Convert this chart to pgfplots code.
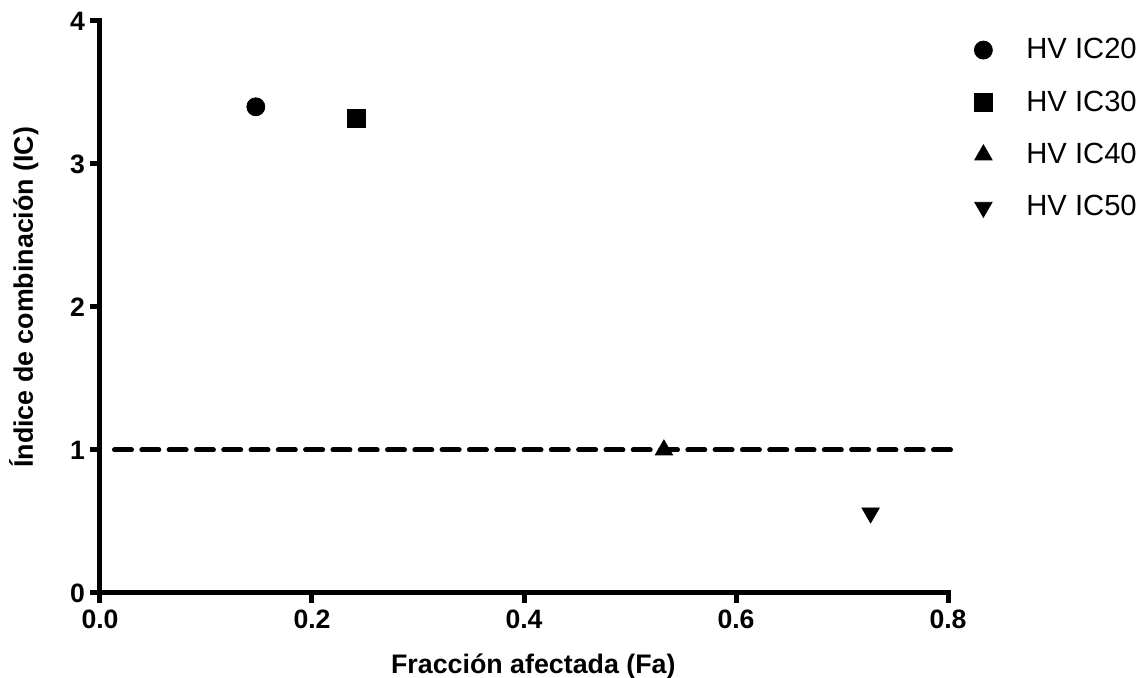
\documentclass[border=0pt]{standalone}
\usepackage{pgfplots}
\pgfplotsset{compat=1.18}
\usepackage{fontspec}
\setmainfont{Liberation Sans}
\begin{document}
\begin{tikzpicture}
\useasboundingbox (-50pt,-42.5pt) rectangle (520.5pt,296.5pt);
\begin{axis}[
  at={(0,0)}, anchor=south west,
  scale only axis, width=424pt, height=286pt,
  xmin=0, xmax=0.8, ymin=0, ymax=4,
  axis x line*=bottom, axis y line*=left,
  axis line style={line width=2.5pt, line cap=rect},
  every tick/.style={line width=2.5pt, black},
  tick align=outside, major tick length=5pt,
  xtick={0,0.2,0.4,0.6,0.8}, ytick={0,1,2,3,4},
  /pgf/number format/assume math mode=true,
  ticklabel style={font=\fontsize{13.3}{15}\selectfont\bfseries},
  xticklabel style={yshift=0pt, /pgf/number format/.cd, fixed, fixed zerofill, precision=1},
  yticklabel style={xshift=1pt},
  xlabel={Fracción afectada (Fa)},
  ylabel={Índice de combinación (IC)},
  label style={font=\fontsize{13.4}{15}\selectfont\bfseries},
  xlabel style={at={(axis description cs:0.511,-0.14)}, anchor=base},
  ylabel style={at={(axis description cs:-0.09,0.517)}, anchor=center, rotate=0},
  clip=false,
  legend style={draw=none, fill=none, at={(1,1)}, anchor=north west, xshift=10pt, yshift=-4.5pt,
    font=\fontsize{14.6}{17}\selectfont, row sep=10.5pt, cells={anchor=west}},
  legend image code/.code={\path[draw=none, fill=none] (0.25cm,0) -- ++(19.5pt,0); \draw[#1] plot coordinates {(0.25cm,0cm)};},
]
\addplot[only marks, mark=*, mark size=4.5pt, black] coordinates {(0.147,3.40)};
\addlegendentry{HV IC20}
\addplot[only marks, mark=square*, mark size=4.5pt, black] coordinates {(0.242,3.32)};
\addlegendentry{HV IC30}
\addplot[only marks, mark=triangle*, mark size=5pt, black] coordinates {(0.532,1.0)};
\addlegendentry{HV IC40}
\addplot[only marks, mark=triangle*, mark options={rotate=180}, mark size=5pt, black] coordinates {(0.727,0.56)};
\addlegendentry{HV IC50}
\addplot[black, line width=2.5pt, line cap=round, dash pattern=on 8.5pt off 5.15pt, forget plot] coordinates {(0.0137,1) (0.8024,1)};
\end{axis}
\end{tikzpicture}
\end{document}
